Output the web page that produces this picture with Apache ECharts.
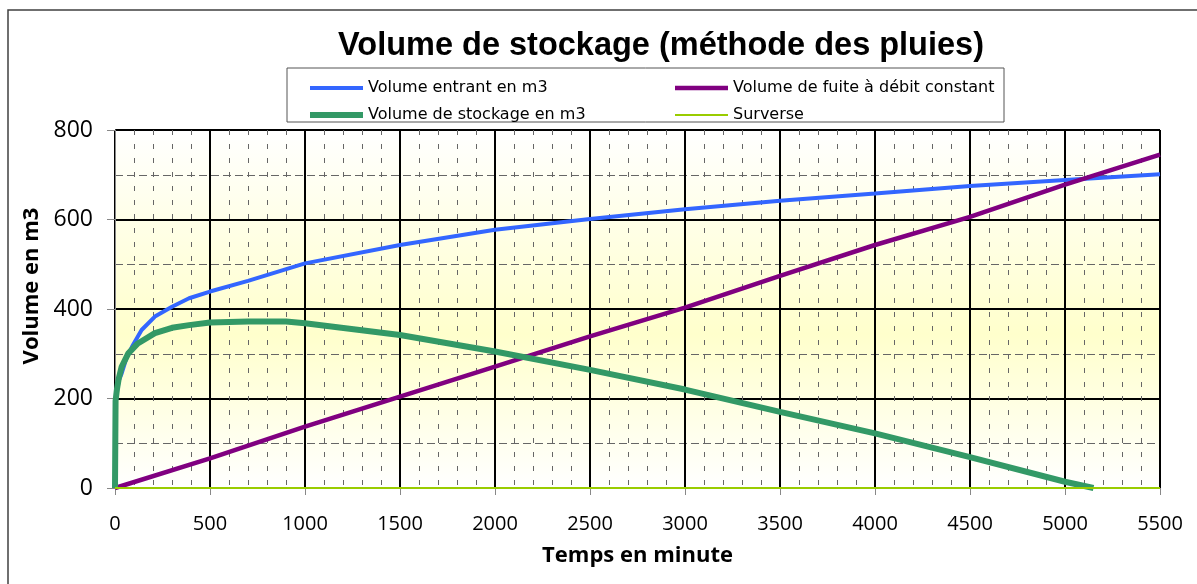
<!DOCTYPE html>
<html>
<head>
<meta charset="utf-8">
<script src="https://cdn.jsdelivr.net/npm/echarts@6/dist/echarts.min.js"></script>
<style>
  html, body { margin: 0; padding: 0; background: #fff; }
  #chart { width: 1197px; height: 584px; }
</style>
</head>
<body>
<div id="chart"></div>
<script>
// Volume de stockage - methode des pluies
var seriesNames = ['Volume entrant en m3', 'Volume de fuite à débit constant', 'Volume de stockage en m3', 'Surverse'];
var seriesColors = ['#3366ff', '#800080', '#339966', '#99cc00'];
var lineWidths = [4, 4.5, 6, 2];

var entrantT = [0, 3, 10, 20, 35, 60, 90, 140, 210, 300, 390, 500, 700, 1000, 1500, 2000, 2500, 3000, 3500, 4000, 4500, 5000, 5500];
var entrantV = [0, 195, 215, 240, 256, 290, 316, 353, 383, 405, 424, 439, 463, 502, 543, 577, 601, 623, 642, 658, 675, 688, 701];

var fuiteT = [0, 500, 1000, 1500, 2000, 2500, 3000, 3500, 4000, 4500, 5000, 5500];
var fuiteV = [0, 66, 137, 204, 271, 339, 403, 474, 543, 606, 678, 745];

var stockT = [0, 3, 10, 20, 35, 70, 120, 210, 300, 390, 500, 700, 900, 1000, 1500, 2000, 2500, 3000, 3500, 4000, 4500, 5000, 5150];
var stockV = [0, 195, 220, 245, 271, 301, 323, 346, 358, 364, 370, 372, 372, 368, 342, 305, 264, 220, 170, 122, 69, 14, 0];

var surverseT = [0, 5500];
var surverseV = [0, 0];

function pairs(t, v) {
  var out = [];
  for (var i = 0; i < t.length; i++) out.push([t[i], v[i]]);
  return out;
}

// flat line icon for the legend, thickness w inside a 53x14 box
function lineIcon(w) {
  var y0 = 7 - w / 2, y1 = 7 + w / 2;
  return 'path://M0,0 L0,0 Z M0,14 L0,14 Z M0,' + y0 + ' L53,' + y0 + ' L53,' + y1 + ' L0,' + y1 + ' Z';
}

function legendItem(i) {
  return { name: seriesNames[i], icon: lineIcon(lineWidths[i]) };
}

var legendText = { fontFamily: 'DejaVu Sans', fontSize: 16, color: '#000' };

var chart = echarts.init(document.getElementById('chart'));
var option;

option = {
  animation: false,
  title: {
    text: 'Volume de stockage (méthode des pluies)',
    left: 656,
    top: 25,
    textAlign: 'center',
    textStyle: {
      fontFamily: 'Liberation Sans',
      fontWeight: 'bold',
      fontSize: 32.5,
      color: '#000'
    }
  },
  graphic: [
    {
      type: 'rect',
      shape: { x: 8, y: 10, width: 1200, height: 600 },
      style: { fill: null, stroke: '#404040', lineWidth: 1.5 },
      silent: true,
      z: 0
    },
    {
      type: 'rect',
      shape: { x: 287, y: 68, width: 717, height: 54 },
      style: { fill: '#fff', stroke: '#555', lineWidth: 1 },
      silent: true,
      z: 0
    }
  ],
  legend: [
    {
      left: 305,
      top: 75,
      orient: 'vertical',
      data: [legendItem(0), legendItem(2)],
      itemWidth: 53,
      itemHeight: 14,
      itemGap: 11,
      selectedMode: false,
      textStyle: legendText
    },
    {
      left: 670,
      top: 75,
      orient: 'vertical',
      data: [legendItem(1), legendItem(3)],
      itemWidth: 53,
      itemHeight: 14,
      itemGap: 11,
      selectedMode: false,
      textStyle: legendText
    }
  ],
  grid: {
    left: 115,
    right: 37,
    top: 130,
    bottom: 96,
    show: true,
    borderColor: '#c0c0c0',
    borderWidth: 1,
    backgroundColor: new echarts.graphic.LinearGradient(0, 0, 0, 1, [
      { offset: 0, color: '#ffffff' },
      { offset: 0.57, color: '#ffffcc' },
      { offset: 1, color: '#ffffff' }
    ])
  },
  xAxis: {
    type: 'value',
    min: 0,
    max: 5500,
    interval: 500,
    name: 'Temps en minute',
    nameLocation: 'middle',
    nameGap: 57,
    nameTextStyle: { fontFamily: 'Open Sans', fontWeight: 'bold', fontSize: 22, color: '#000' },
    axisLine: { show: true, onZero: false, lineStyle: { color: '#888', width: 1 } },
    axisTick: { show: true, length: 7, lineStyle: { color: '#888' } },
    axisLabel: {
      margin: 26, fontFamily: 'Open Sans', fontSize: 20, color: '#000',
      formatter: function (v) { return String(v); }
    },
    splitLine: { show: true, lineStyle: { color: '#000', width: 2 } },
    minorTick: { show: false, splitNumber: 5 },
    minorSplitLine: { show: true, lineStyle: { color: '#666', width: 1, type: [5, 9] } }
  },
  yAxis: {
    type: 'value',
    min: 0,
    max: 800,
    interval: 200,
    name: 'Volume en m3',
    nameLocation: 'middle',
    nameGap: 62,
    nameTextStyle: { fontFamily: 'Open Sans', fontWeight: 'bold', fontSize: 22, color: '#000', padding: [0, 0, 0, 46] },
    axisLine: { show: true, lineStyle: { color: '#888', width: 1 } },
    axisTick: { show: true, length: 8, lineStyle: { color: '#888' } },
    axisLabel: {
      margin: 22, fontFamily: 'Open Sans', fontSize: 23, color: '#000',
      formatter: function (v) { return String(v); }
    },
    splitLine: { show: true, lineStyle: { color: '#000', width: 2 } },
    minorTick: { show: false, splitNumber: 2 },
    minorSplitLine: { show: true, lineStyle: { color: '#666', width: 1, type: [8, 4] } }
  },
  series: [
    {
      name: seriesNames[0],
      type: 'line',
      symbol: 'none',
      data: pairs(entrantT, entrantV),
      lineStyle: { color: seriesColors[0], width: lineWidths[0] },
      itemStyle: { color: seriesColors[0] }
    },
    {
      name: seriesNames[1],
      type: 'line',
      symbol: 'none',
      data: pairs(fuiteT, fuiteV),
      lineStyle: { color: seriesColors[1], width: lineWidths[1] },
      itemStyle: { color: seriesColors[1] }
    },
    {
      name: seriesNames[2],
      type: 'line',
      symbol: 'none',
      data: pairs(stockT, stockV),
      lineStyle: { color: seriesColors[2], width: lineWidths[2] },
      itemStyle: { color: seriesColors[2] }
    },
    {
      name: seriesNames[3],
      type: 'line',
      symbol: 'none',
      data: pairs(surverseT, surverseV),
      lineStyle: { color: seriesColors[3], width: lineWidths[3] },
      itemStyle: { color: seriesColors[3] }
    }
  ]
};

option && chart.setOption(option);
window.addEventListener('resize', function () { chart.resize(); });
</script>
</body>
</html>
